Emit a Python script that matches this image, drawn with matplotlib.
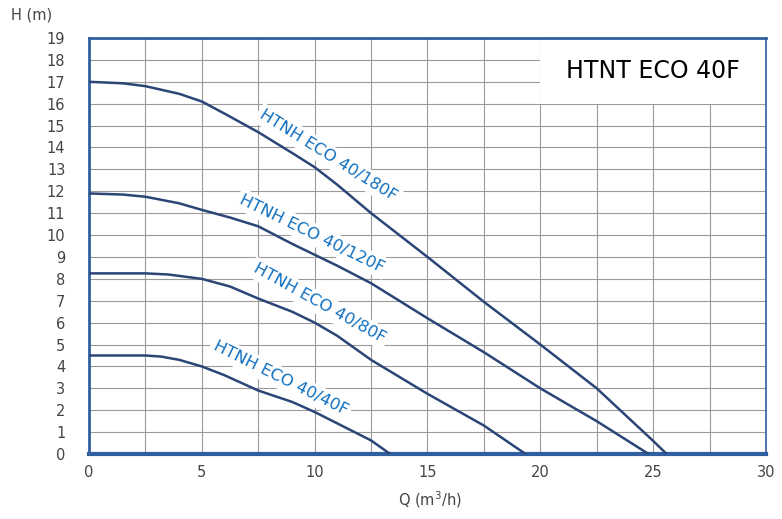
"""
Pump performance curves, HTNT ECO 40F series (H vs Q).
"""

import matplotlib.pyplot as plt
from matplotlib.patches import Rectangle

# ---------------------------------------------------------------------------
# Data
# ---------------------------------------------------------------------------

q_180 = [0, 1.5, 2.5, 4, 5, 6, 7.5, 9, 10, 11, 12.5, 15, 17.5, 20, 22.5, 25, 25.6]
h_180 = [17.0, 16.93, 16.8, 16.45, 16.1, 15.55, 14.7, 13.75, 13.1, 12.3, 11.0,
         9.0, 6.95, 5.0, 3.0, 0.6, 0.0]

q_120 = [0, 1.5, 2.5, 4, 5, 6.25, 7.5, 9, 10, 11, 12.5, 15, 17.5, 20, 22.5, 24.8]
h_120 = [11.9, 11.85, 11.75, 11.45, 11.15, 10.8, 10.4, 9.6, 9.1, 8.6, 7.8,
         6.2, 4.65, 3.0, 1.5, 0.0]

q_80 = [0, 1.5, 2.5, 3.5, 5, 6.25, 7.5, 9, 10, 11, 12.5, 15, 17.5, 19.35]
h_80 = [8.25, 8.25, 8.25, 8.2, 8.0, 7.65, 7.1, 6.5, 6.0, 5.4, 4.3, 2.75, 1.3, 0.0]

q_40 = [0, 1.5, 2.5, 3.2, 4, 5, 6, 7.5, 9, 10, 11, 12.5, 13.35]
h_40 = [4.5, 4.5, 4.5, 4.45, 4.3, 4.0, 3.6, 2.9, 2.38, 1.92, 1.4, 0.62, 0.0]

curve_names = ["HTNH ECO 40/180F", "HTNH ECO 40/120F",
               "HTNH ECO 40/80F", "HTNH ECO 40/40F"]
# label baseline centre (Q, H) and on-screen angle
label_pos = [(10.5, 13.45), (9.8, 9.88), (10.1, 6.7), (8.4, 3.28)]
label_rot = [-32, -26, -29, -26.5]

x_ticks = list(range(0, 31, 5))
y_ticks = list(range(0, 20))
title_text = "HTNT ECO 40F"

FRAME = "#2f5f9e"
CURVE = "#2b4577"
LABEL = "#1070c0"
GRID  = "#9a9a9a"
TICK  = "#444444"

# ---------------------------------------------------------------------------
# Figure
# ---------------------------------------------------------------------------

fig = plt.figure(figsize=(7.82, 5.19), dpi=100)
ax = fig.add_axes([0.1138, 0.1252, 0.8657, 0.8016])

ax.set_xlim(0, 30)
ax.set_ylim(0, 19)
ax.set_xticks(x_ticks)
ax.set_xticks([x + 2.5 for x in x_ticks[:-1]], minor=True)
ax.set_yticks(y_ticks)
ax.grid(True, which="both", color=GRID, linewidth=0.8, zorder=0)
ax.set_axisbelow(True)
ax.tick_params(which="both", length=0)
ax.tick_params(axis="x", pad=8, labelsize=10.5, labelcolor=TICK)
ax.tick_params(axis="y", pad=17, labelsize=10.5, labelcolor=TICK)

for side in ["left", "top", "right"]:
    ax.spines[side].set_color(FRAME)
    ax.spines[side].set_linewidth(2.0)
ax.spines["right"].set_linewidth(1.2)
ax.spines["bottom"].set_color(FRAME)
ax.spines["bottom"].set_linewidth(3.0)

# Curve labels (white boxes sit under the curves)
for name, (lq, lh), rot in zip(curve_names, label_pos, label_rot):
    ax.text(lq, lh, name, color=LABEL, fontsize=11.8, rotation=rot,
            rotation_mode="anchor", ha="center", va="baseline", zorder=2.5,
            bbox=dict(facecolor="white", edgecolor="none", pad=2.5))

# Curves
for q, h in [(q_180, h_180), (q_120, h_120), (q_80, h_80), (q_40, h_40)]:
    ax.plot(q, h, color=CURVE, linewidth=1.8, zorder=3,
            solid_capstyle="round", solid_joinstyle="round")

# Title box
ax.add_patch(Rectangle((20, 16), 10, 3, facecolor="white", edgecolor="none",
                       zorder=2))
ax.text(25.0, 17.5, title_text, fontsize=17, color="black",
        ha="center", va="center", zorder=4)

# Axis labels
fig.text(0.041, 0.971, "H (m)", fontsize=10.5, color=TICK,
         ha="center", va="center")
fig.text(0.55, 0.037, r"Q (m$^3$/h)", fontsize=10.5, color=TICK,
         ha="center", va="center")

fig.savefig("out.png", dpi=100)
